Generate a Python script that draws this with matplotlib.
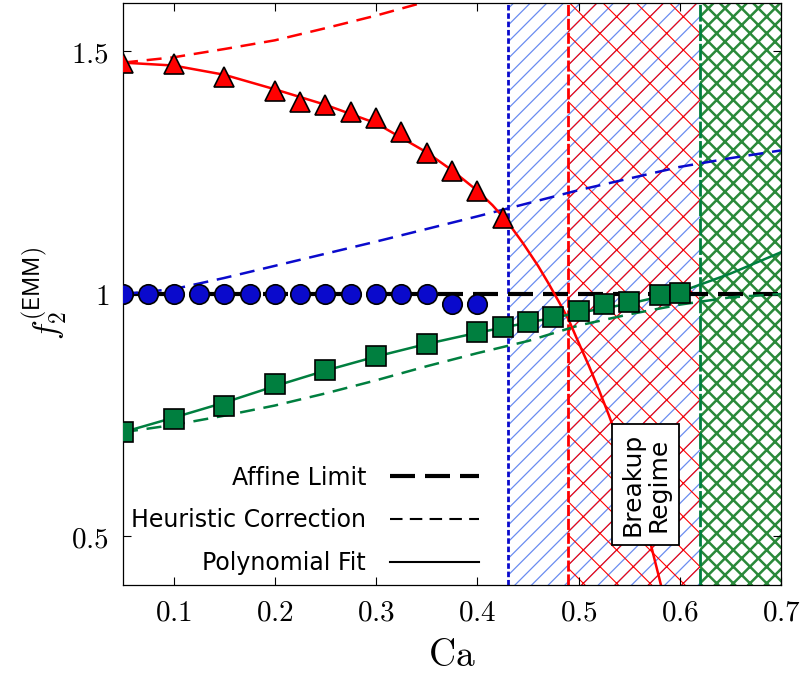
import numpy as np
import matplotlib
matplotlib.use("Agg")
import matplotlib.pyplot as plt
from matplotlib.lines import Line2D
from matplotlib.ticker import FuncFormatter

plt.rcParams['mathtext.fontset'] = 'cm'
plt.rcParams['font.family'] = 'DejaVu Sans'

RED = '#ff0000'
BLUE = '#0a0acc'
GREEN = '#007f3f'

# data
tri_x = [0.05, 0.1, 0.15, 0.2, 0.225, 0.25, 0.275, 0.3, 0.325, 0.35, 0.375, 0.4, 0.425]
tri_y = [1.477, 1.475, 1.447, 1.418, 1.395, 1.389, 1.375, 1.362, 1.333, 1.290, 1.254, 1.212, 1.157]

circ_x = [0.05, 0.075, 0.1, 0.125, 0.15, 0.175, 0.2, 0.225, 0.25, 0.275, 0.3, 0.325, 0.35, 0.375, 0.4]
circ_y = [1.0, 1.0, 1.0, 1.0, 1.0, 1.0, 1.0, 1.0, 1.0, 1.0, 1.0, 1.0, 1.0, 0.98, 0.979]

sq_x = [0.05, 0.1, 0.15, 0.2, 0.25, 0.3, 0.35, 0.4, 0.425, 0.45, 0.475, 0.5, 0.525, 0.55, 0.58, 0.6]
sq_y = [0.715, 0.743, 0.770, 0.815, 0.843, 0.872, 0.897, 0.921, 0.932, 0.943, 0.953,
        0.965, 0.979, 0.984, 0.998, 1.003]

# polynomial fits (solid)
red_fit_x = [0.05, 0.1, 0.15, 0.2, 0.25, 0.3, 0.35, 0.375, 0.4, 0.415, 0.43, 0.445, 0.46, 0.47,
             0.48, 0.49, 0.5, 0.51, 0.52, 0.53, 0.54, 0.55, 0.56, 0.57, 0.58, 0.59]
red_fit_y = [1.477, 1.471, 1.452, 1.422, 1.390, 1.352, 1.292, 1.255, 1.213, 1.183, 1.148, 1.105,
             1.058, 1.023, 0.986, 0.948, 0.900, 0.853, 0.803, 0.750, 0.693, 0.632, 0.567, 0.495,
             0.412, 0.325]

green_fit_x = [0.05, 0.1, 0.15, 0.2, 0.25, 0.3, 0.35, 0.4, 0.45, 0.5, 0.55, 0.6, 0.65, 0.7]
green_fit_y = [0.715, 0.745, 0.776, 0.810, 0.842, 0.871, 0.897, 0.920, 0.941, 0.961, 0.980, 1.004, 1.042, 1.086]

# heuristic corrections (dashed)
red_heur_x = [0.05, 0.1, 0.15, 0.2, 0.25, 0.3, 0.35]
red_heur_y = [1.477, 1.488, 1.505, 1.523, 1.548, 1.574, 1.603]

blue_heur_x = [0.05, 0.1, 0.15, 0.2, 0.25, 0.3, 0.35, 0.4, 0.45, 0.5, 0.55, 0.6, 0.65, 0.7]
blue_heur_y = [1.0, 1.010, 1.033, 1.058, 1.083, 1.108, 1.134, 1.160, 1.187, 1.214, 1.238, 1.262, 1.280, 1.296]

green_heur_x = [0.05, 0.1, 0.15, 0.2, 0.25, 0.3, 0.35, 0.4, 0.45, 0.5, 0.55, 0.6, 0.65, 0.7]
green_heur_y = [0.715, 0.730, 0.749, 0.770, 0.795, 0.822, 0.851, 0.878, 0.903, 0.935, 0.958, 0.978, 0.993, 1.0]

# breakup onset per series
ca_crit = {'blue': 0.43, 'red': 0.49, 'green': 0.62}

fig = plt.figure(figsize=(8.02, 6.9), dpi=100)
ax = fig.add_axes([0.1534, 0.1522, 0.8204, 0.8435])


def hatch_span(x0, color, hatch, hlw):
    plt.rcParams['hatch.linewidth'] = hlw
    p = ax.axvspan(x0, 0.7, facecolor='none', edgecolor=color, hatch=hatch, linewidth=0, zorder=0)
    try:
        p.set_hatch_linewidth(hlw)
    except AttributeError:
        pass


hatch_span(ca_crit['blue'], '#6a8cf0', '//', 0.9)
hatch_span(ca_crit['red'], RED, 'x', 0.8)
hatch_span(ca_crit['green'], '#2a8a3a', 'xx', 1.8)

ax.axvline(ca_crit['blue'], color=BLUE, lw=2, ls=(0, (2, 1)), zorder=1)
ax.axvline(ca_crit['red'], color=RED, lw=2, ls=(0, (4, 1)), zorder=1)
ax.axvline(ca_crit['green'], color=GREEN, lw=2, ls=(0, (6, 1)), zorder=1)

# affine limit
affine = (0, (6, 2.4))
ax.axhline(1.0, color='black', lw=3, ls=affine, zorder=2)

dash = (0, (6, 3.5))
ax.plot(red_heur_x, red_heur_y, color=RED, lw=1.8, ls=dash, zorder=2)
ax.plot(blue_heur_x, blue_heur_y, color=BLUE, lw=1.8, ls=dash, zorder=2)
ax.plot(green_heur_x, green_heur_y, color=GREEN, lw=1.8, ls=dash, zorder=2)

ax.plot(red_fit_x, red_fit_y, color=RED, lw=1.8, zorder=2)
ax.plot(green_fit_x, green_fit_y, color=GREEN, lw=1.8, zorder=2)

ax.plot(tri_x, tri_y, '^', ms=14, mfc=RED, mec='black', mew=1.2, zorder=3)
ax.plot(circ_x, circ_y, 'o', ms=14, mfc=BLUE, mec='black', mew=1.2, zorder=3)
ax.plot(sq_x, sq_y, 's', ms=14, mfc=GREEN, mec='black', mew=1.2, zorder=3)

ax.text(0.566, 0.607, 'Breakup\nRegime', rotation=90, ha='center', va='center',
        fontsize=18, linespacing=1.1,
        bbox=dict(boxstyle='square,pad=0.35', facecolor='white', edgecolor='black', lw=1.3),
        zorder=4)

ax.set_xlim(0.05, 0.7)
ax.set_ylim(0.4, 1.6)
ax.set_xticks([0.1, 0.2, 0.3, 0.4, 0.5, 0.6, 0.7])
ax.set_yticks([0.5, 1.0, 1.5])
ax.xaxis.set_major_formatter(FuncFormatter(lambda v, p: f'${v:g}$'))
ax.yaxis.set_major_formatter(FuncFormatter(lambda v, p: f'${v:g}$'))
ax.tick_params(direction='in', length=6, width=0.8, top=True, right=True, labelsize=21, pad=10)
for s in ax.spines.values():
    s.set_linewidth(0.9)

ax.set_xlabel(r'$\mathrm{Ca}$', fontsize=27, labelpad=8)
ax.set_ylabel(r'$f_2^{(\mathsf{EMM})}$', fontsize=24, labelpad=2)

handles = [
    Line2D([], [], color='black', lw=3, ls=affine),
    Line2D([], [], color='black', lw=1.5, ls=dash),
    Line2D([], [], color='black', lw=1.5),
]
ax.legend(handles, ['Affine Limit', 'Heuristic Correction', 'Polynomial Fit'],
          loc='lower left', bbox_to_anchor=(-0.02, -0.02), frameon=False, markerfirst=False,
          fontsize=17, handlelength=3.8, labelspacing=0.8, handletextpad=1.0)

fig.savefig('out.png', dpi=100)
